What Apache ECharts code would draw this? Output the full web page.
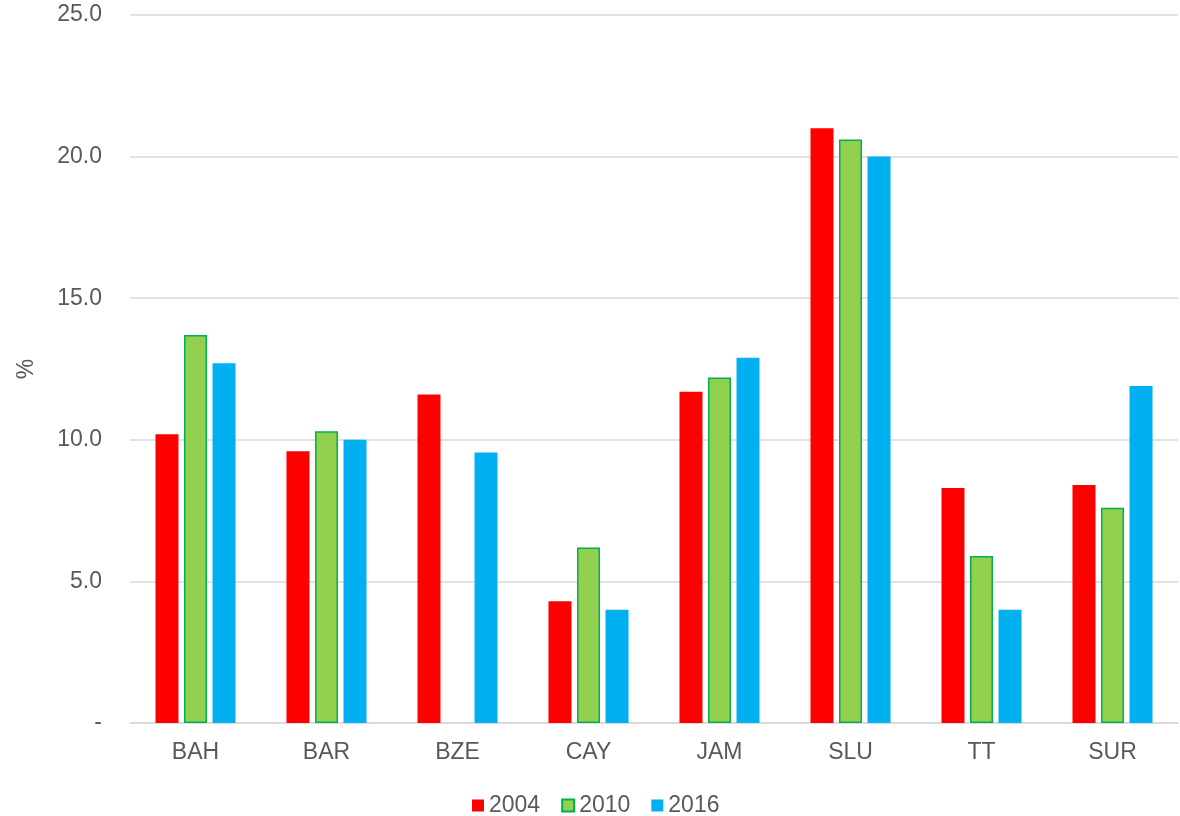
<!DOCTYPE html>
<html>
<head>
<meta charset="utf-8">
<script src="https://cdn.jsdelivr.net/npm/echarts@6/dist/echarts.min.js"></script>
<style>
  html, body { margin: 0; padding: 0; background: #fff; }
  #chart { width: 1180px; height: 816px; }
</style>
</head>
<body>
<div id="chart"></div>
<script>
// Country codes along the x axis
const categories = ['BAH', 'BAR', 'BZE', 'CAY', 'JAM', 'SLU', 'TT', 'SUR'];
// Share (%) by year; BZE has no 2010 figure
const values2004 = [10.2, 9.6, 11.6, 4.3, 11.7, 21.0, 8.3, 8.4];
const values2010 = [13.7, 10.3, null, 6.2, 12.2, 20.6, 5.9, 7.6];
const values2016 = [12.7, 10.0, 9.55, 4.0, 12.9, 20.0, 4.0, 11.9];
const seriesNames = ['2004', '2010', '2016'];

const textColor = '#595959';
const font = 'Liberation Sans, Arial, sans-serif';
const fontSize = 23;

const chart = echarts.init(document.getElementById('chart'));
chart.setOption({
  animation: false,
  grid: { left: 130, right: 2, top: 15, bottom: 93, containLabel: false },
  legend: {
    top: 789,
    left: 467,
    itemWidth: 12,
    itemHeight: 12,
    itemGap: 21,
    icon: 'rect',
    textStyle: { color: textColor, fontSize: fontSize, fontFamily: font },
    data: seriesNames
  },
  xAxis: {
    type: 'category',
    data: categories,
    axisTick: { show: false },
    axisLine: { lineStyle: { color: '#d9d9d9', width: 1.5 } },
    axisLabel: { color: textColor, fontSize: fontSize, fontFamily: font, margin: 18 }
  },
  yAxis: {
    type: 'value',
    min: 0,
    max: 25,
    interval: 5,
    name: '%',
    nameLocation: 'middle',
    nameGap: 92,
    nameRotate: 90,
    nameTextStyle: { color: textColor, fontSize: fontSize, fontFamily: font },
    axisLine: { show: false },
    axisTick: { show: false },
    splitLine: { lineStyle: { color: '#d9d9d9', width: 1.5 } },
    axisLabel: {
      color: textColor, fontSize: fontSize, fontFamily: font, margin: 28,
      padding: [3, 0, 0, 0],
      formatter: v => v === 0 ? '-' : v.toFixed(1)
    }
  },
  series: [
    {
      name: seriesNames[0], type: 'bar', data: values2004,
      barWidth: 23, barGap: '24%',
      itemStyle: { color: '#ff0000' }
    },
    {
      name: seriesNames[1], type: 'bar', data: values2010,
      barWidth: 23, barGap: '24%',
      itemStyle: { color: '#92d050', borderColor: '#00b050', borderWidth: 1.5 }
    },
    {
      name: seriesNames[2], type: 'bar', data: values2016,
      barWidth: 23, barGap: '24%',
      itemStyle: { color: '#00b0f0' }
    }
  ]
});
</script>
</body>
</html>
